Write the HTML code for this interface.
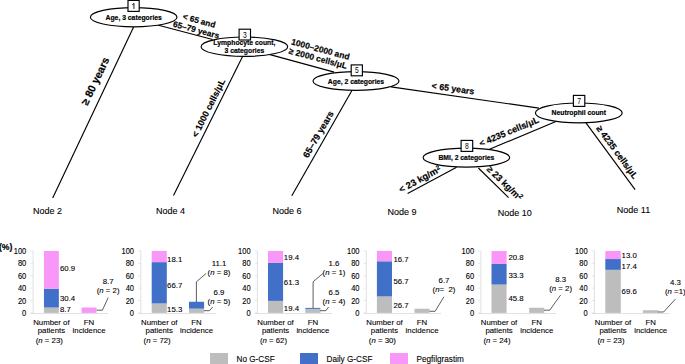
<!DOCTYPE html><html><head><meta charset="utf-8"><style>
html,body{margin:0;padding:0;background:#fff;}
body{width:685px;height:364px;overflow:hidden;}
svg{display:block;font-family:"Liberation Sans",sans-serif;}
.b{font-weight:bold;stroke:#000;stroke-width:0.18px;}
.r{stroke:#000;stroke-width:0.1px;}
</style></head><body>
<svg width="685" height="364" viewBox="0 0 685 364">
<line x1="133.6" y1="27" x2="52.7" y2="198" stroke="#000" stroke-width="1.15"/>
<line x1="156.6" y1="24.7" x2="212.6" y2="39.5" stroke="#000" stroke-width="1.15"/>
<line x1="242.8" y1="56" x2="173.5" y2="195.4" stroke="#000" stroke-width="1.15"/>
<line x1="268.2" y1="54.1" x2="334.2" y2="72.1" stroke="#000" stroke-width="1.15"/>
<line x1="352.2" y1="90" x2="291.8" y2="195.7" stroke="#000" stroke-width="1.15"/>
<line x1="391" y1="86.9" x2="538.9" y2="108.1" stroke="#000" stroke-width="1.15"/>
<line x1="555.9" y1="121.5" x2="489.5" y2="149.3" stroke="#000" stroke-width="1.15"/>
<line x1="585.8" y1="122.6" x2="635.1" y2="189.6" stroke="#000" stroke-width="1.15"/>
<line x1="456.6" y1="167.3" x2="407.6" y2="193.4" stroke="#000" stroke-width="1.15"/>
<line x1="478.4" y1="168" x2="508.6" y2="197.6" stroke="#000" stroke-width="1.15"/>
<ellipse cx="133.7" cy="17.2" rx="43.3" ry="9.6" fill="#fff" stroke="#000" stroke-width="1.15"/>
<text x="133.7" y="19.9" text-anchor="middle" class="b" font-size="6.8">Age, 3 categories</text>
<rect x="128" y="0.4" width="11.2" height="11.0" fill="#fff" stroke="#000" stroke-width="1.15"/>
<path d="M133.95,3.2 V8.95 M132.2,5.0 L134.0,3.4" stroke="#111" stroke-width="0.95" fill="none"/>
<ellipse cx="244.4" cy="46.7" rx="43.3" ry="9.7" fill="#fff" stroke="#000" stroke-width="1.15"/>
<text x="244.4" y="45.4" text-anchor="middle" class="b" font-size="6.8">Lymphocyte count,</text>
<text x="244.4" y="52.7" text-anchor="middle" class="b" font-size="6.8">3 categories</text>
<rect x="239.1" y="29.2" width="11.4" height="10.8" fill="#fff" stroke="#000" stroke-width="1.15"/>
<text transform="translate(244.80,37.55) scale(0.82,1)" text-anchor="middle" font-size="8.2">3</text>
<ellipse cx="356" cy="81.0" rx="43" ry="9.4" fill="#fff" stroke="#000" stroke-width="1.15"/>
<text x="356" y="83.7" text-anchor="middle" class="b" font-size="6.8">Age, 2 categories</text>
<rect x="351.2" y="64.9" width="11.2" height="10.9" fill="#fff" stroke="#000" stroke-width="1.15"/>
<text transform="translate(356.80,73.30) scale(0.82,1)" text-anchor="middle" font-size="8.2">5</text>
<ellipse cx="578.8" cy="112.9" rx="43.4" ry="9.9" fill="#fff" stroke="#000" stroke-width="1.15"/>
<text x="578.8" y="115.2" text-anchor="middle" class="b" font-size="6.8">Neutrophil count</text>
<rect x="573.4" y="95.4" width="11.4" height="11.0" fill="#fff" stroke="#000" stroke-width="1.15"/>
<text transform="translate(579.10,103.85) scale(0.82,1)" text-anchor="middle" font-size="8.2">7</text>
<ellipse cx="466.4" cy="157.6" rx="43.3" ry="9.5" fill="#fff" stroke="#000" stroke-width="1.15"/>
<text x="466.4" y="160.3" text-anchor="middle" class="b" font-size="6.8">BMI, 2 categories</text>
<rect x="461.1" y="140.4" width="11.6" height="11" fill="#fff" stroke="#000" stroke-width="1.15"/>
<text transform="translate(466.90,148.85) scale(0.82,1)" text-anchor="middle" font-size="8.2">8</text>
<text transform="translate(32.90,214.40) scale(1,1.0)" class="r" font-size="9">Node 2</text>
<text transform="translate(155.90,214.40) scale(1,1.0)" class="r" font-size="9">Node 4</text>
<text transform="translate(272.40,213.70) scale(1,1.0)" class="r" font-size="9">Node 6</text>
<text transform="translate(387.60,214.70) scale(1,1.0)" class="r" font-size="9">Node 9</text>
<text transform="translate(497.70,216.40) scale(1,1.0)" class="r" font-size="9">Node 10</text>
<text transform="translate(616.80,213.30) scale(1,1.0)" class="r" font-size="9">Node 11</text>
<text transform="translate(95.1,81.1) rotate(-64.65)" text-anchor="middle" dy="3.74" class="b" font-size="10.7">≥ 80 years</text>
<text transform="translate(199.2,20.6) rotate(15)" text-anchor="middle" dy="2.91" class="b" font-size="8.3">&lt; 65 and</text>
<text transform="translate(196.2,29.8) rotate(15)" text-anchor="middle" dy="2.94" class="b" font-size="8.4">65–79 years</text>
<text transform="translate(208.4,108.0) rotate(-63.5)" text-anchor="middle" dy="3.15" class="b" font-size="9.0">&lt; 1000 cells/μL</text>
<text transform="translate(320.5,49.2) rotate(15)" text-anchor="middle" dy="2.97" class="b" font-size="8.5">1000–2000 and</text>
<text transform="translate(318,58.3) rotate(15)" text-anchor="middle" dy="2.97" class="b" font-size="8.5">≥ 2000 cells/μL</text>
<text transform="translate(318.2,134.2) rotate(-60)" text-anchor="middle" dy="3.22" class="b" font-size="9.2">65–79 years</text>
<text transform="translate(453,88.5) rotate(8)" text-anchor="middle" dy="3.08" class="b" font-size="8.8">&lt; 65 years</text>
<text transform="translate(508.9,131.5) rotate(-22.5)" text-anchor="middle" dy="3.15" class="b" font-size="9.0">&lt; 4235 cells/μL</text>
<text transform="translate(617.3,152.2) rotate(53.6)" text-anchor="middle" dy="3.15" class="b" font-size="9.0">≥ 4235 cells/μL</text>
<text transform="translate(419.8,179.2) rotate(-28.5)" text-anchor="middle" dy="3.25" class="b" font-size="9.3">&lt; 23 kg/m<tspan font-size="6.4" dy="-2.9">2</tspan></text>
<text transform="translate(504.7,183.1) rotate(44)" text-anchor="middle" dy="3.22" class="b" font-size="9.2">≥ 23 kg/m<tspan font-size="6.4" dy="-2.9">2</tspan></text>
<text x="-1.0" y="250.1" class="b" font-size="8.6">(%)</text>
<line x1="33.1" y1="250.99999999999997" x2="33.1" y2="313.4" stroke="#d9d9d9" stroke-width="0.8"/>
<line x1="30.5" y1="313.5" x2="108.0" y2="313.5" stroke="#d9d9d9" stroke-width="0.8"/>
<line x1="30.5" y1="312.9" x2="33.1" y2="312.9" stroke="#d9d9d9" stroke-width="0.6"/>
<text transform="translate(26.30,315.90) scale(1,1.12)" text-anchor="end" class="r" font-size="7.5">0</text>
<line x1="30.5" y1="300.52" x2="33.1" y2="300.52" stroke="#d9d9d9" stroke-width="0.6"/>
<text transform="translate(26.30,303.52) scale(1,1.12)" text-anchor="end" class="r" font-size="7.5">20</text>
<line x1="30.5" y1="288.14" x2="33.1" y2="288.14" stroke="#d9d9d9" stroke-width="0.6"/>
<text transform="translate(26.30,291.14) scale(1,1.12)" text-anchor="end" class="r" font-size="7.5">40</text>
<line x1="30.5" y1="275.76" x2="33.1" y2="275.76" stroke="#d9d9d9" stroke-width="0.6"/>
<text transform="translate(26.30,278.76) scale(1,1.12)" text-anchor="end" class="r" font-size="7.5">60</text>
<line x1="30.5" y1="263.38" x2="33.1" y2="263.38" stroke="#d9d9d9" stroke-width="0.6"/>
<text transform="translate(26.30,266.38) scale(1,1.12)" text-anchor="end" class="r" font-size="7.5">80</text>
<line x1="30.5" y1="250.99999999999997" x2="33.1" y2="250.99999999999997" stroke="#d9d9d9" stroke-width="0.6"/>
<text transform="translate(26.30,254.00) scale(1,1.12)" text-anchor="end" class="r" font-size="7.5">100</text>
<rect x="43.95" y="307.51" width="14.9" height="5.39" fill="#bdbdbd"/>
<rect x="43.95" y="288.70" width="14.9" height="18.82" fill="#4070c8"/>
<rect x="43.95" y="251.00" width="14.9" height="37.70" fill="#f997f9"/>
<text transform="translate(60.00,270.70) scale(1,1.0)" class="r" font-size="7.8">60.9</text>
<text transform="translate(60.00,300.80) scale(1,1.0)" class="r" font-size="7.8">30.4</text>
<text transform="translate(60.00,312.40) scale(1,1.0)" class="r" font-size="7.8">8.7</text>
<rect x="81.6" y="307.51" width="14.9" height="5.39" fill="#f997f9"/>
<text transform="translate(51.40,324.70) scale(1,1.0)" text-anchor="middle" class="r" font-size="7.8">Number of</text>
<text transform="translate(51.40,333.40) scale(1,1.0)" text-anchor="middle" class="r" font-size="7.8">patients</text>
<text transform="translate(49.30,342.70) scale(1,1.0)" text-anchor="middle" class="r" font-size="7.8">(<tspan font-style="italic">n</tspan> = 23)</text>
<text transform="translate(89.05,324.70) scale(1,1.0)" text-anchor="middle" class="r" font-size="7.8">FN</text>
<text transform="translate(89.05,333.40) scale(1,1.0)" text-anchor="middle" class="r" font-size="7.8">incidence</text>
<line x1="140.8" y1="250.99999999999997" x2="140.8" y2="313.4" stroke="#d9d9d9" stroke-width="0.8"/>
<line x1="138.20000000000002" y1="313.5" x2="215.6" y2="313.5" stroke="#d9d9d9" stroke-width="0.8"/>
<line x1="138.20000000000002" y1="312.9" x2="140.8" y2="312.9" stroke="#d9d9d9" stroke-width="0.6"/>
<text transform="translate(134.00,315.90) scale(1,1.12)" text-anchor="end" class="r" font-size="7.5">0</text>
<line x1="138.20000000000002" y1="300.52" x2="140.8" y2="300.52" stroke="#d9d9d9" stroke-width="0.6"/>
<text transform="translate(134.00,303.52) scale(1,1.12)" text-anchor="end" class="r" font-size="7.5">20</text>
<line x1="138.20000000000002" y1="288.14" x2="140.8" y2="288.14" stroke="#d9d9d9" stroke-width="0.6"/>
<text transform="translate(134.00,291.14) scale(1,1.12)" text-anchor="end" class="r" font-size="7.5">40</text>
<line x1="138.20000000000002" y1="275.76" x2="140.8" y2="275.76" stroke="#d9d9d9" stroke-width="0.6"/>
<text transform="translate(134.00,278.76) scale(1,1.12)" text-anchor="end" class="r" font-size="7.5">60</text>
<line x1="138.20000000000002" y1="263.38" x2="140.8" y2="263.38" stroke="#d9d9d9" stroke-width="0.6"/>
<text transform="translate(134.00,266.38) scale(1,1.12)" text-anchor="end" class="r" font-size="7.5">80</text>
<line x1="138.20000000000002" y1="250.99999999999997" x2="140.8" y2="250.99999999999997" stroke="#d9d9d9" stroke-width="0.6"/>
<text transform="translate(134.00,254.00) scale(1,1.12)" text-anchor="end" class="r" font-size="7.5">100</text>
<rect x="151.7" y="303.43" width="15.1" height="9.47" fill="#bdbdbd"/>
<rect x="151.7" y="262.14" width="15.1" height="41.29" fill="#4070c8"/>
<rect x="151.7" y="250.94" width="15.1" height="11.20" fill="#f997f9"/>
<text transform="translate(167.10,262.10) scale(1,1.0)" class="r" font-size="7.8">18.1</text>
<text transform="translate(167.10,287.80) scale(1,1.0)" class="r" font-size="7.8">66.7</text>
<text transform="translate(167.10,311.90) scale(1,1.0)" class="r" font-size="7.8">15.3</text>
<rect x="189.0" y="308.63" width="15.1" height="4.27" fill="#bdbdbd"/>
<rect x="189.0" y="301.76" width="15.1" height="6.87" fill="#4070c8"/>
<text transform="translate(159.25,324.70) scale(1,1.0)" text-anchor="middle" class="r" font-size="7.8">Number of</text>
<text transform="translate(159.25,333.40) scale(1,1.0)" text-anchor="middle" class="r" font-size="7.8">patients</text>
<text transform="translate(157.15,342.70) scale(1,1.0)" text-anchor="middle" class="r" font-size="7.8">(<tspan font-style="italic">n</tspan> = 72)</text>
<text transform="translate(196.55,324.70) scale(1,1.0)" text-anchor="middle" class="r" font-size="7.8">FN</text>
<text transform="translate(196.55,333.40) scale(1,1.0)" text-anchor="middle" class="r" font-size="7.8">incidence</text>
<line x1="257.4" y1="250.99999999999997" x2="257.4" y2="313.4" stroke="#d9d9d9" stroke-width="0.8"/>
<line x1="254.79999999999998" y1="313.5" x2="331.90000000000003" y2="313.5" stroke="#d9d9d9" stroke-width="0.8"/>
<line x1="254.79999999999998" y1="312.9" x2="257.4" y2="312.9" stroke="#d9d9d9" stroke-width="0.6"/>
<text transform="translate(250.60,315.90) scale(1,1.12)" text-anchor="end" class="r" font-size="7.5">0</text>
<line x1="254.79999999999998" y1="300.52" x2="257.4" y2="300.52" stroke="#d9d9d9" stroke-width="0.6"/>
<text transform="translate(250.60,303.52) scale(1,1.12)" text-anchor="end" class="r" font-size="7.5">20</text>
<line x1="254.79999999999998" y1="288.14" x2="257.4" y2="288.14" stroke="#d9d9d9" stroke-width="0.6"/>
<text transform="translate(250.60,291.14) scale(1,1.12)" text-anchor="end" class="r" font-size="7.5">40</text>
<line x1="254.79999999999998" y1="275.76" x2="257.4" y2="275.76" stroke="#d9d9d9" stroke-width="0.6"/>
<text transform="translate(250.60,278.76) scale(1,1.12)" text-anchor="end" class="r" font-size="7.5">60</text>
<line x1="254.79999999999998" y1="263.38" x2="257.4" y2="263.38" stroke="#d9d9d9" stroke-width="0.6"/>
<text transform="translate(250.60,266.38) scale(1,1.12)" text-anchor="end" class="r" font-size="7.5">80</text>
<line x1="254.79999999999998" y1="250.99999999999997" x2="257.4" y2="250.99999999999997" stroke="#d9d9d9" stroke-width="0.6"/>
<text transform="translate(250.60,254.00) scale(1,1.12)" text-anchor="end" class="r" font-size="7.5">100</text>
<rect x="268.0" y="300.89" width="15.1" height="12.01" fill="#bdbdbd"/>
<rect x="268.0" y="262.95" width="15.1" height="37.94" fill="#4070c8"/>
<rect x="268.0" y="250.94" width="15.1" height="12.01" fill="#f997f9"/>
<text transform="translate(283.80,259.80) scale(1,1.0)" class="r" font-size="7.8">19.4</text>
<text transform="translate(283.80,284.80) scale(1,1.0)" class="r" font-size="7.8">61.3</text>
<text transform="translate(283.80,310.80) scale(1,1.0)" class="r" font-size="7.8">19.4</text>
<rect x="305.3" y="308.88" width="15.1" height="4.02" fill="#bdbdbd"/>
<rect x="305.3" y="307.89" width="15.1" height="0.99" fill="#4070c8"/>
<text transform="translate(275.55,324.70) scale(1,1.0)" text-anchor="middle" class="r" font-size="7.8">Number of</text>
<text transform="translate(275.55,333.40) scale(1,1.0)" text-anchor="middle" class="r" font-size="7.8">patients</text>
<text transform="translate(273.45,342.70) scale(1,1.0)" text-anchor="middle" class="r" font-size="7.8">(<tspan font-style="italic">n</tspan> = 62)</text>
<text transform="translate(312.85,324.70) scale(1,1.0)" text-anchor="middle" class="r" font-size="7.8">FN</text>
<text transform="translate(312.85,333.40) scale(1,1.0)" text-anchor="middle" class="r" font-size="7.8">incidence</text>
<line x1="366.3" y1="250.99999999999997" x2="366.3" y2="313.4" stroke="#d9d9d9" stroke-width="0.8"/>
<line x1="363.7" y1="313.5" x2="441.1" y2="313.5" stroke="#d9d9d9" stroke-width="0.8"/>
<line x1="363.7" y1="312.9" x2="366.3" y2="312.9" stroke="#d9d9d9" stroke-width="0.6"/>
<text transform="translate(359.50,315.90) scale(1,1.12)" text-anchor="end" class="r" font-size="7.5">0</text>
<line x1="363.7" y1="300.52" x2="366.3" y2="300.52" stroke="#d9d9d9" stroke-width="0.6"/>
<text transform="translate(359.50,303.52) scale(1,1.12)" text-anchor="end" class="r" font-size="7.5">20</text>
<line x1="363.7" y1="288.14" x2="366.3" y2="288.14" stroke="#d9d9d9" stroke-width="0.6"/>
<text transform="translate(359.50,291.14) scale(1,1.12)" text-anchor="end" class="r" font-size="7.5">40</text>
<line x1="363.7" y1="275.76" x2="366.3" y2="275.76" stroke="#d9d9d9" stroke-width="0.6"/>
<text transform="translate(359.50,278.76) scale(1,1.12)" text-anchor="end" class="r" font-size="7.5">60</text>
<line x1="363.7" y1="263.38" x2="366.3" y2="263.38" stroke="#d9d9d9" stroke-width="0.6"/>
<text transform="translate(359.50,266.38) scale(1,1.12)" text-anchor="end" class="r" font-size="7.5">80</text>
<line x1="363.7" y1="250.99999999999997" x2="366.3" y2="250.99999999999997" stroke="#d9d9d9" stroke-width="0.6"/>
<text transform="translate(359.50,254.00) scale(1,1.12)" text-anchor="end" class="r" font-size="7.5">100</text>
<rect x="376.9" y="296.37" width="15.1" height="16.53" fill="#bdbdbd"/>
<rect x="376.9" y="261.28" width="15.1" height="35.10" fill="#4070c8"/>
<rect x="376.9" y="250.94" width="15.1" height="10.34" fill="#f997f9"/>
<text transform="translate(393.40,262.40) scale(1,1.0)" class="r" font-size="7.8">16.7</text>
<text transform="translate(393.40,284.40) scale(1,1.0)" class="r" font-size="7.8">56.7</text>
<text transform="translate(393.40,307.50) scale(1,1.0)" class="r" font-size="7.8">26.7</text>
<rect x="414.5" y="308.75" width="15.1" height="4.15" fill="#bdbdbd"/>
<text transform="translate(384.45,324.70) scale(1,1.0)" text-anchor="middle" class="r" font-size="7.8">Number of</text>
<text transform="translate(384.45,333.40) scale(1,1.0)" text-anchor="middle" class="r" font-size="7.8">patients</text>
<text transform="translate(382.35,342.70) scale(1,1.0)" text-anchor="middle" class="r" font-size="7.8">(<tspan font-style="italic">n</tspan> = 30)</text>
<text transform="translate(422.05,324.70) scale(1,1.0)" text-anchor="middle" class="r" font-size="7.8">FN</text>
<text transform="translate(422.05,333.40) scale(1,1.0)" text-anchor="middle" class="r" font-size="7.8">incidence</text>
<line x1="480.9" y1="250.99999999999997" x2="480.9" y2="313.4" stroke="#d9d9d9" stroke-width="0.8"/>
<line x1="478.29999999999995" y1="313.5" x2="555.8000000000001" y2="313.5" stroke="#d9d9d9" stroke-width="0.8"/>
<line x1="478.29999999999995" y1="312.9" x2="480.9" y2="312.9" stroke="#d9d9d9" stroke-width="0.6"/>
<text transform="translate(474.10,315.90) scale(1,1.12)" text-anchor="end" class="r" font-size="7.5">0</text>
<line x1="478.29999999999995" y1="300.52" x2="480.9" y2="300.52" stroke="#d9d9d9" stroke-width="0.6"/>
<text transform="translate(474.10,303.52) scale(1,1.12)" text-anchor="end" class="r" font-size="7.5">20</text>
<line x1="478.29999999999995" y1="288.14" x2="480.9" y2="288.14" stroke="#d9d9d9" stroke-width="0.6"/>
<text transform="translate(474.10,291.14) scale(1,1.12)" text-anchor="end" class="r" font-size="7.5">40</text>
<line x1="478.29999999999995" y1="275.76" x2="480.9" y2="275.76" stroke="#d9d9d9" stroke-width="0.6"/>
<text transform="translate(474.10,278.76) scale(1,1.12)" text-anchor="end" class="r" font-size="7.5">60</text>
<line x1="478.29999999999995" y1="263.38" x2="480.9" y2="263.38" stroke="#d9d9d9" stroke-width="0.6"/>
<text transform="translate(474.10,266.38) scale(1,1.12)" text-anchor="end" class="r" font-size="7.5">80</text>
<line x1="478.29999999999995" y1="250.99999999999997" x2="480.9" y2="250.99999999999997" stroke="#d9d9d9" stroke-width="0.6"/>
<text transform="translate(474.10,254.00) scale(1,1.12)" text-anchor="end" class="r" font-size="7.5">100</text>
<rect x="491.5" y="284.55" width="15.1" height="28.35" fill="#bdbdbd"/>
<rect x="491.5" y="263.94" width="15.1" height="20.61" fill="#4070c8"/>
<rect x="491.5" y="251.06" width="15.1" height="12.88" fill="#f997f9"/>
<text transform="translate(508.40,260.20) scale(1,1.0)" class="r" font-size="7.8">20.8</text>
<text transform="translate(508.40,277.80) scale(1,1.0)" class="r" font-size="7.8">33.3</text>
<text transform="translate(508.40,300.90) scale(1,1.0)" class="r" font-size="7.8">45.8</text>
<rect x="529.2" y="307.76" width="15.1" height="5.14" fill="#bdbdbd"/>
<text transform="translate(499.05,324.70) scale(1,1.0)" text-anchor="middle" class="r" font-size="7.8">Number of</text>
<text transform="translate(499.05,333.40) scale(1,1.0)" text-anchor="middle" class="r" font-size="7.8">patients</text>
<text transform="translate(496.95,342.70) scale(1,1.0)" text-anchor="middle" class="r" font-size="7.8">(<tspan font-style="italic">n</tspan> = 24)</text>
<text transform="translate(536.75,324.70) scale(1,1.0)" text-anchor="middle" class="r" font-size="7.8">FN</text>
<text transform="translate(536.75,333.40) scale(1,1.0)" text-anchor="middle" class="r" font-size="7.8">incidence</text>
<line x1="594.4" y1="250.99999999999997" x2="594.4" y2="313.4" stroke="#d9d9d9" stroke-width="0.8"/>
<line x1="591.8" y1="313.5" x2="669.9" y2="313.5" stroke="#d9d9d9" stroke-width="0.8"/>
<line x1="591.8" y1="312.9" x2="594.4" y2="312.9" stroke="#d9d9d9" stroke-width="0.6"/>
<text transform="translate(587.60,315.90) scale(1,1.12)" text-anchor="end" class="r" font-size="7.5">0</text>
<line x1="591.8" y1="300.52" x2="594.4" y2="300.52" stroke="#d9d9d9" stroke-width="0.6"/>
<text transform="translate(587.60,303.52) scale(1,1.12)" text-anchor="end" class="r" font-size="7.5">20</text>
<line x1="591.8" y1="288.14" x2="594.4" y2="288.14" stroke="#d9d9d9" stroke-width="0.6"/>
<text transform="translate(587.60,291.14) scale(1,1.12)" text-anchor="end" class="r" font-size="7.5">40</text>
<line x1="591.8" y1="275.76" x2="594.4" y2="275.76" stroke="#d9d9d9" stroke-width="0.6"/>
<text transform="translate(587.60,278.76) scale(1,1.12)" text-anchor="end" class="r" font-size="7.5">60</text>
<line x1="591.8" y1="263.38" x2="594.4" y2="263.38" stroke="#d9d9d9" stroke-width="0.6"/>
<text transform="translate(587.60,266.38) scale(1,1.12)" text-anchor="end" class="r" font-size="7.5">80</text>
<line x1="591.8" y1="250.99999999999997" x2="594.4" y2="250.99999999999997" stroke="#d9d9d9" stroke-width="0.6"/>
<text transform="translate(587.60,254.00) scale(1,1.12)" text-anchor="end" class="r" font-size="7.5">100</text>
<rect x="605.3" y="269.82" width="15.5" height="43.08" fill="#bdbdbd"/>
<rect x="605.3" y="259.05" width="15.5" height="10.77" fill="#4070c8"/>
<rect x="605.3" y="251.00" width="15.5" height="8.05" fill="#f997f9"/>
<text transform="translate(621.60,258.00) scale(1,1.0)" class="r" font-size="7.8">13.0</text>
<text transform="translate(621.60,268.60) scale(1,1.0)" class="r" font-size="7.8">17.4</text>
<text transform="translate(621.60,293.90) scale(1,1.0)" class="r" font-size="7.8">69.6</text>
<rect x="642.9" y="310.24" width="15.5" height="2.66" fill="#bdbdbd"/>
<text transform="translate(613.05,324.70) scale(1,1.0)" text-anchor="middle" class="r" font-size="7.8">Number of</text>
<text transform="translate(613.05,333.40) scale(1,1.0)" text-anchor="middle" class="r" font-size="7.8">patients</text>
<text transform="translate(610.95,342.70) scale(1,1.0)" text-anchor="middle" class="r" font-size="7.8">(<tspan font-style="italic">n</tspan> = 23)</text>
<text transform="translate(650.65,324.70) scale(1,1.0)" text-anchor="middle" class="r" font-size="7.8">FN</text>
<text transform="translate(650.65,333.40) scale(1,1.0)" text-anchor="middle" class="r" font-size="7.8">incidence</text>
<text transform="translate(108.10,283.90) scale(1,1.0)" text-anchor="middle" class="r" font-size="7.8" xml:space="preserve">8.7</text>
<text transform="translate(108.10,293.10) scale(1,1.0)" text-anchor="middle" class="r" font-size="7.8" xml:space="preserve">(<tspan font-style="italic">n</tspan> = 2)</text>
<polyline points="96.6,310.2 102.4,310.2 108.2,297.7" fill="none" stroke="#333" stroke-width="0.8"/>
<text transform="translate(219.00,265.90) scale(1,1.0)" text-anchor="middle" class="r" font-size="7.8" xml:space="preserve">11.1</text>
<text transform="translate(219.00,275.10) scale(1,1.0)" text-anchor="middle" class="r" font-size="7.8" xml:space="preserve">(<tspan font-style="italic">n</tspan> = 8)</text>
<polyline points="196.4,302 196.4,281.8 206.2,273.4" fill="none" stroke="#333" stroke-width="0.8"/>
<text transform="translate(219.00,294.90) scale(1,1.0)" text-anchor="middle" class="r" font-size="7.8" xml:space="preserve">6.9</text>
<text transform="translate(219.00,304.10) scale(1,1.0)" text-anchor="middle" class="r" font-size="7.8" xml:space="preserve">(<tspan font-style="italic">n</tspan> = 5)</text>
<polyline points="204,310.7 209.5,310.7 212.7,307" fill="none" stroke="#333" stroke-width="0.8"/>
<text transform="translate(334.00,265.90) scale(1,1.0)" text-anchor="middle" class="r" font-size="7.8" xml:space="preserve">1.6</text>
<text transform="translate(334.00,275.10) scale(1,1.0)" text-anchor="middle" class="r" font-size="7.8" xml:space="preserve">(<tspan font-style="italic">n</tspan> = 1)</text>
<polyline points="313.1,308 313.1,281.8 323,273.4" fill="none" stroke="#333" stroke-width="0.8"/>
<text transform="translate(334.00,294.90) scale(1,1.0)" text-anchor="middle" class="r" font-size="7.8" xml:space="preserve">6.5</text>
<text transform="translate(334.00,304.10) scale(1,1.0)" text-anchor="middle" class="r" font-size="7.8" xml:space="preserve">(<tspan font-style="italic">n</tspan> = 4)</text>
<polyline points="320,310.7 325.8,310.7 328.6,307" fill="none" stroke="#333" stroke-width="0.8"/>
<text transform="translate(444.00,283.20) scale(1,1.0)" text-anchor="middle" class="r" font-size="7.8" xml:space="preserve">6.7</text>
<text transform="translate(444.00,291.80) scale(1,1.0)" text-anchor="middle" class="r" font-size="7.8" xml:space="preserve">(<tspan font-style="italic">n</tspan>=  2)</text>
<polyline points="429.5,311.3 435.1,311.3 443.9,296.8" fill="none" stroke="#333" stroke-width="0.8"/>
<text transform="translate(560.60,281.60) scale(1,1.0)" text-anchor="middle" class="r" font-size="7.8" xml:space="preserve">8.3</text>
<text transform="translate(560.60,290.80) scale(1,1.0)" text-anchor="middle" class="r" font-size="7.8" xml:space="preserve">(<tspan font-style="italic">n</tspan> = 2)</text>
<polyline points="544.2,310.2 549.7,310.2 560.6,295.1" fill="none" stroke="#333" stroke-width="0.8"/>
<text transform="translate(675.30,285.20) scale(1,1.0)" text-anchor="middle" class="r" font-size="7.8" xml:space="preserve">4.3</text>
<text transform="translate(675.30,293.90) scale(1,1.0)" text-anchor="middle" class="r" font-size="7.8" xml:space="preserve">(<tspan font-style="italic">n</tspan> =1)</text>
<polyline points="657.9,312 663.6,312 675.5,299" fill="none" stroke="#333" stroke-width="0.8"/>
<rect x="210" y="353" width="18" height="12" fill="#bdbdbd"/>
<text transform="translate(236.50,361.50) scale(1,1.0)" class="r" font-size="8.2">No G-CSF</text>
<rect x="300" y="353" width="18" height="12" fill="#4070c8"/>
<text transform="translate(326.50,361.50) scale(1,1.0)" class="r" font-size="8.2">Daily G-CSF</text>
<rect x="390" y="353" width="18" height="12" fill="#f997f9"/>
<text transform="translate(416.50,361.50) scale(1,1.0)" class="r" font-size="8.2">Pegfilgrastim</text>
</svg></body></html>
